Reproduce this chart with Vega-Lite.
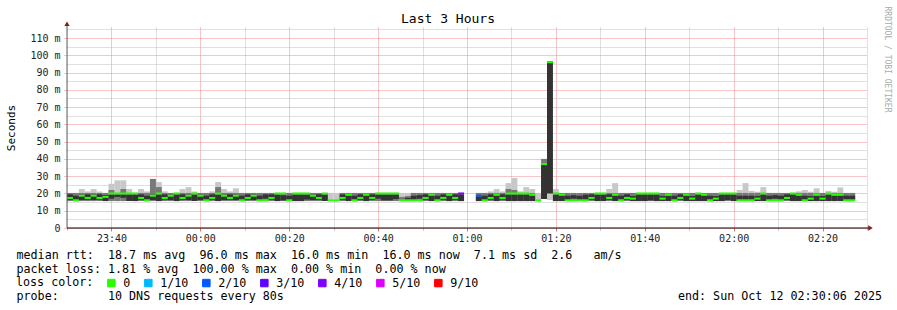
{
"$schema": "https://vega.github.io/schema/vega-lite/v6.json",
"width": 800, "height": 201,
"autosize": {"type": "none"},
"padding": {"left": 67, "top": 27, "right": 30, "bottom": 82},
"background": "#ffffff",
"config": {"view": {"stroke": null}, "font": "DejaVu Sans Mono"},
"title": {"text": "Last 3 Hours", "font": "DejaVu Sans Mono", "fontSize": 13, "fontWeight": "normal", "color": "#000000", "anchor": "middle", "frame": "group", "dx": -19, "baseline": "alphabetic", "offset": 0, "dy": 29.5},
"data": {"values": [
{"t":0,"t2":80,"lo":15.6,"hi":20.3,"b2":20.3,"d1":16.3,"d2":19.5,"med":17.4,"loss":"0"},
{"t":80,"t2":160,"lo":15.6,"hi":20.3,"b2":20.3,"d1":16.5,"d2":18.7,"med":16,"loss":"0"},
{"t":160,"t2":240,"lo":15.6,"hi":22.6,"b2":20.3,"d1":16.2,"d2":19.3,"med":18.7,"loss":"0"},
{"t":240,"t2":320,"lo":15.6,"hi":21.2,"b2":20.3,"d1":16.3,"d2":19.5,"med":17.4,"loss":"0"},
{"t":320,"t2":400,"lo":15.6,"hi":22.6,"b2":20.3,"d1":16.2,"d2":19.3,"med":18.7,"loss":"0"},
{"t":400,"t2":480,"lo":15.6,"hi":21.2,"b2":20.3,"d1":16.3,"d2":19.5,"med":17.4,"loss":"0"},
{"t":480,"t2":560,"lo":15.6,"hi":20.3,"b2":20.3,"d1":15.6,"d2":19,"med":18,"loss":"0"},
{"t":560,"t2":640,"lo":15.6,"hi":25.6,"b2":22,"d1":17,"d2":19.3,"med":20,"loss":"0"},
{"t":640,"t2":720,"lo":15.6,"hi":27.6,"b2":20.3,"d1":18,"d2":19.3,"med":20,"loss":"0"},
{"t":720,"t2":800,"lo":15.6,"hi":27.6,"b2":22.6,"d1":17.5,"d2":19.3,"med":20,"loss":"0"},
{"t":800,"t2":880,"lo":15.6,"hi":22.6,"b2":20.3,"d1":15.6,"d2":19.3,"med":20,"loss":"0"},
{"t":880,"t2":960,"lo":15.6,"hi":20.3,"b2":20.3,"d1":15.6,"d2":19.3,"med":20,"loss":"0"},
{"t":960,"t2":1040,"lo":15.6,"hi":22.6,"b2":20.3,"d1":16.3,"d2":19.5,"med":17.4,"loss":"0"},
{"t":1040,"t2":1120,"lo":15.6,"hi":21.2,"b2":20.3,"d1":16.5,"d2":18.7,"med":16,"loss":"0"},
{"t":1120,"t2":1200,"lo":15.6,"hi":28.4,"b2":28.4,"d1":16.2,"d2":19.3,"med":18.7,"loss":"0"},
{"t":1200,"t2":1280,"lo":15.6,"hi":26.6,"b2":23.7,"d1":15.6,"d2":19.3,"med":20,"loss":"0"},
{"t":1280,"t2":1360,"lo":15.6,"hi":21.2,"b2":20.3,"d1":16.3,"d2":19.5,"med":17.4,"loss":"0"},
{"t":1360,"t2":1440,"lo":15.6,"hi":20.3,"b2":20.3,"d1":16.2,"d2":19.3,"med":18.7,"loss":"0"},
{"t":1440,"t2":1520,"lo":15.6,"hi":20.3,"b2":20.3,"d1":15.6,"d2":19.3,"med":20,"loss":"0"},
{"t":1520,"t2":1600,"lo":15.6,"hi":22.6,"b2":20.3,"d1":16.3,"d2":19.5,"med":17.4,"loss":"0"},
{"t":1600,"t2":1680,"lo":15.6,"hi":23.7,"b2":20.3,"d1":16.2,"d2":19.3,"med":18.7,"loss":"0"},
{"t":1680,"t2":1760,"lo":15.6,"hi":21.2,"b2":20.3,"d1":15.6,"d2":19.3,"med":20,"loss":"0"},
{"t":1760,"t2":1840,"lo":15.6,"hi":20.3,"b2":20.3,"d1":16.2,"d2":19.3,"med":18.7,"loss":"0"},
{"t":1840,"t2":1920,"lo":15.6,"hi":20.3,"b2":20.3,"d1":16.5,"d2":18.7,"med":16,"loss":"0"},
{"t":1920,"t2":2000,"lo":15.6,"hi":21.2,"b2":20.3,"d1":16.3,"d2":19.5,"med":17.4,"loss":"0"},
{"t":2000,"t2":2080,"lo":15.6,"hi":26.6,"b2":23.7,"d1":15.6,"d2":19.3,"med":20,"loss":"0"},
{"t":2080,"t2":2160,"lo":15.6,"hi":22.6,"b2":20.3,"d1":16.2,"d2":19.3,"med":18.7,"loss":"0"},
{"t":2160,"t2":2240,"lo":15.6,"hi":21.2,"b2":20.3,"d1":16.3,"d2":19.5,"med":17.4,"loss":"0"},
{"t":2240,"t2":2320,"lo":15.6,"hi":23,"b2":20.3,"d1":16.2,"d2":19.3,"med":18.7,"loss":"0"},
{"t":2320,"t2":2400,"lo":15.6,"hi":20.3,"b2":20.3,"d1":16.5,"d2":18.7,"med":16,"loss":"0"},
{"t":2400,"t2":2480,"lo":15.6,"hi":20.3,"b2":20.3,"d1":16.3,"d2":19.5,"med":17.4,"loss":"0"},
{"t":2480,"t2":2560,"lo":15.6,"hi":20.3,"b2":20.3,"d1":16.2,"d2":19.3,"med":18.7,"loss":"0"},
{"t":2560,"t2":2640,"lo":15.6,"hi":20.3,"b2":20.3,"d1":16.5,"d2":18.7,"med":16,"loss":"0"},
{"t":2640,"t2":2720,"lo":15.6,"hi":20.3,"b2":20.3,"d1":17,"d2":19.5,"med":16,"loss":"0"},
{"t":2720,"t2":2800,"lo":15.6,"hi":20.3,"b2":20.3,"d1":16.3,"d2":19.5,"med":17.4,"loss":"0"},
{"t":2800,"t2":2880,"lo":15.6,"hi":20.3,"b2":20.3,"d1":15.6,"d2":19.3,"med":20,"loss":"0"},
{"t":2880,"t2":2960,"lo":15.6,"hi":20.3,"b2":20.3,"d1":16,"d2":19,"med":20,"loss":"0"},
{"t":2960,"t2":3040,"lo":15.6,"hi":20.3,"b2":20.3,"d1":16.5,"d2":18.7,"med":16,"loss":"0"},
{"t":3040,"t2":3120,"lo":15.6,"hi":20.3,"b2":20.3,"d1":15.6,"d2":19.3,"med":20,"loss":"0"},
{"t":3120,"t2":3200,"lo":15.6,"hi":20.3,"b2":20.3,"d1":15.6,"d2":19.3,"med":20,"loss":"0"},
{"t":3200,"t2":3280,"lo":15.6,"hi":20.3,"b2":20.3,"d1":16.5,"d2":19.3,"med":20,"loss":"0"},
{"t":3280,"t2":3360,"lo":15.6,"hi":20.3,"b2":20.3,"d1":16.2,"d2":19.3,"med":18.7,"loss":"0"},
{"t":3360,"t2":3440,"lo":15.6,"hi":20.3,"b2":20.3,"d1":16.3,"d2":19.5,"med":17.4,"loss":"0"},
{"t":3440,"t2":3520,"lo":15.6,"hi":20.3,"b2":20.3,"d1":15.6,"d2":19.3,"med":20,"loss":"0"},
{"t":3520,"t2":3600,"lo":15.6,"hi":20.3,"b2":15.6,"d1":15.6,"d2":15.6,"med":16,"loss":"0"},
{"t":3600,"t2":3680,"lo":15.6,"hi":20.3,"b2":15.6,"d1":15.6,"d2":15.6,"med":16,"loss":"0"},
{"t":3680,"t2":3760,"lo":15.6,"hi":20.3,"b2":20.3,"d1":16.3,"d2":19.5,"med":17.4,"loss":"0"},
{"t":3760,"t2":3840,"lo":15.6,"hi":20.3,"b2":20.3,"d1":15.6,"d2":18.7,"med":19.3,"loss":"0"},
{"t":3840,"t2":3920,"lo":15.6,"hi":20.3,"b2":20.3,"d1":16.5,"d2":18.7,"med":16,"loss":"0"},
{"t":3920,"t2":4000,"lo":15.6,"hi":20.3,"b2":20.3,"d1":16.3,"d2":19.5,"med":17.4,"loss":"0"},
{"t":4000,"t2":4080,"lo":15.6,"hi":20.3,"b2":20.3,"d1":15.6,"d2":18.7,"med":19.3,"loss":"0"},
{"t":4080,"t2":4160,"lo":15.6,"hi":20.3,"b2":20.3,"d1":16.3,"d2":19.5,"med":17.4,"loss":"0"},
{"t":4160,"t2":4240,"lo":15.6,"hi":20.3,"b2":20.3,"d1":17,"d2":19.3,"med":20,"loss":"0"},
{"t":4240,"t2":4320,"lo":15.6,"hi":20.3,"b2":20.3,"d1":16,"d2":19.3,"med":20,"loss":"0"},
{"t":4320,"t2":4400,"lo":15.6,"hi":20.3,"b2":20.3,"d1":16,"d2":19.3,"med":20,"loss":"0"},
{"t":4400,"t2":4480,"lo":15.6,"hi":20.3,"b2":20.3,"d1":16.8,"d2":19.3,"med":20,"loss":"0"},
{"t":4480,"t2":4560,"lo":15.6,"hi":20.3,"b2":18,"d1":16.5,"d2":16.5,"med":16,"loss":"0"},
{"t":4560,"t2":4640,"lo":15.6,"hi":20.3,"b2":18.5,"d1":16.5,"d2":17.5,"med":16,"loss":"0"},
{"t":4640,"t2":4720,"lo":15.6,"hi":20.3,"b2":20.3,"d1":16.5,"d2":18.7,"med":16,"loss":"0"},
{"t":4720,"t2":4800,"lo":15.6,"hi":20.3,"b2":20.3,"d1":17,"d2":19,"med":16,"loss":"0"},
{"t":4800,"t2":4880,"lo":15.6,"hi":20.3,"b2":20.3,"d1":16.3,"d2":19.5,"med":17.4,"loss":"0"},
{"t":4880,"t2":4960,"lo":15.6,"hi":20.3,"b2":20.3,"d1":15.6,"d2":18.7,"med":19.3,"loss":"0"},
{"t":4960,"t2":5040,"lo":15.6,"hi":20.3,"b2":20.3,"d1":16.5,"d2":18.7,"med":16,"loss":"0"},
{"t":5040,"t2":5120,"lo":15.6,"hi":20.3,"b2":20.3,"d1":16.3,"d2":19.5,"med":17.4,"loss":"0"},
{"t":5120,"t2":5200,"lo":15.6,"hi":20.3,"b2":20.3,"d1":15.6,"d2":18.7,"med":19.3,"loss":"0"},
{"t":5200,"t2":5280,"lo":15.6,"hi":20.3,"b2":20.3,"d1":16.3,"d2":19.5,"med":17.4,"loss":"0"},
{"t":5280,"t2":5360,"lo":15.6,"hi":20.3,"b2":20.3,"d1":15.6,"d2":19.3,"med":20,"loss":"4/10"},
{"t":5520,"t2":5600,"lo":15.6,"hi":20.3,"b2":20.3,"d1":15.6,"d2":18.2,"med":18.7,"loss":"2/10"},
{"t":5600,"t2":5680,"lo":15.6,"hi":20.3,"b2":20.3,"d1":16.5,"d2":18.7,"med":16,"loss":"0"},
{"t":5680,"t2":5760,"lo":15.6,"hi":21.2,"b2":20.3,"d1":16.3,"d2":19.5,"med":17.4,"loss":"0"},
{"t":5760,"t2":5840,"lo":15.6,"hi":22.6,"b2":20.3,"d1":15.6,"d2":18.7,"med":19.3,"loss":"0"},
{"t":5840,"t2":5920,"lo":15.6,"hi":21.2,"b2":20.3,"d1":16.3,"d2":19.5,"med":17.4,"loss":"0"},
{"t":5920,"t2":6000,"lo":15.6,"hi":26,"b2":22.6,"d1":15.6,"d2":19.3,"med":20,"loss":"0"},
{"t":6000,"t2":6080,"lo":15.6,"hi":29,"b2":22,"d1":15.6,"d2":19.3,"med":20,"loss":"0"},
{"t":6080,"t2":6160,"lo":15.6,"hi":21.2,"b2":20.3,"d1":15.6,"d2":19.3,"med":20,"loss":"0"},
{"t":6160,"t2":6240,"lo":15.6,"hi":23.7,"b2":20.3,"d1":15.6,"d2":19.3,"med":20,"loss":"0"},
{"t":6240,"t2":6320,"lo":15.6,"hi":22.6,"b2":20.3,"d1":15.6,"d2":18.7,"med":19.3,"loss":"0"},
{"t":6320,"t2":6400,"lo":15.3,"hi":20.3,"b2":15.3,"d1":15.3,"d2":15.3,"med":16,"loss":"0"},
{"t":6400,"t2":6480,"lo":16.8,"hi":40,"b2":40,"d1":16.8,"d2":37,"med":37,"loss":"0"},
{"t":6480,"t2":6560,"lo":16.2,"hi":96.6,"b2":16.2,"d1":20,"d2":96.6,"med":96,"loss":"0"},
{"t":6560,"t2":6640,"lo":15.6,"hi":22.6,"b2":20.3,"d1":15.6,"d2":19.3,"med":20,"loss":"0"},
{"t":6640,"t2":6720,"lo":15.6,"hi":20.3,"b2":20.3,"d1":15.6,"d2":18.7,"med":19.3,"loss":"0"},
{"t":6720,"t2":6800,"lo":15.6,"hi":20.3,"b2":20.3,"d1":16.5,"d2":18.7,"med":16,"loss":"0"},
{"t":6800,"t2":6880,"lo":15.6,"hi":20.3,"b2":20.3,"d1":17,"d2":19,"med":16,"loss":"0"},
{"t":6880,"t2":6960,"lo":15.6,"hi":20.3,"b2":20.3,"d1":16.5,"d2":18.7,"med":16,"loss":"0"},
{"t":6960,"t2":7040,"lo":15.6,"hi":20.3,"b2":20.3,"d1":16.5,"d2":19.3,"med":16,"loss":"0"},
{"t":7040,"t2":7120,"lo":15.6,"hi":20.3,"b2":20.3,"d1":16.3,"d2":19.5,"med":17.4,"loss":"0"},
{"t":7120,"t2":7200,"lo":15.6,"hi":20.3,"b2":20.3,"d1":15.6,"d2":19.3,"med":20,"loss":"0"},
{"t":7200,"t2":7280,"lo":15.6,"hi":20.3,"b2":20.3,"d1":15.6,"d2":19.3,"med":20,"loss":"0"},
{"t":7280,"t2":7360,"lo":15.6,"hi":22.6,"b2":20.3,"d1":16.3,"d2":19.5,"med":17.4,"loss":"0"},
{"t":7360,"t2":7440,"lo":15.6,"hi":26,"b2":20.3,"d1":15.6,"d2":18.7,"med":19.3,"loss":"0"},
{"t":7440,"t2":7520,"lo":15.6,"hi":20.3,"b2":20.3,"d1":16.5,"d2":18.7,"med":16,"loss":"0"},
{"t":7520,"t2":7600,"lo":15.6,"hi":20.3,"b2":20.3,"d1":16.3,"d2":19.5,"med":17.4,"loss":"0"},
{"t":7600,"t2":7680,"lo":15.6,"hi":20.3,"b2":20.3,"d1":15.6,"d2":18.5,"med":17,"loss":"0"},
{"t":7680,"t2":7760,"lo":15.6,"hi":20.3,"b2":20.3,"d1":15.6,"d2":19.3,"med":20,"loss":"0"},
{"t":7760,"t2":7840,"lo":15.6,"hi":20.3,"b2":20.3,"d1":15.6,"d2":19.3,"med":20,"loss":"0"},
{"t":7840,"t2":7920,"lo":15.6,"hi":20.3,"b2":20.3,"d1":16,"d2":19.3,"med":20,"loss":"0"},
{"t":7920,"t2":8000,"lo":15.6,"hi":20.3,"b2":20.3,"d1":15.6,"d2":19.3,"med":20,"loss":"0"},
{"t":8000,"t2":8080,"lo":15.6,"hi":20.3,"b2":20.3,"d1":15.6,"d2":18.5,"med":17,"loss":"0"},
{"t":8080,"t2":8160,"lo":15.6,"hi":20.3,"b2":20.3,"d1":15.6,"d2":18.7,"med":19.3,"loss":"0"},
{"t":8160,"t2":8240,"lo":15.6,"hi":20.3,"b2":20.3,"d1":16.5,"d2":18.7,"med":16,"loss":"0"},
{"t":8240,"t2":8320,"lo":15.6,"hi":20.3,"b2":20.3,"d1":16.3,"d2":19.5,"med":17.4,"loss":"0"},
{"t":8320,"t2":8400,"lo":15.6,"hi":20.3,"b2":20.3,"d1":15.6,"d2":18.7,"med":19.3,"loss":"0"},
{"t":8400,"t2":8480,"lo":15.6,"hi":20.3,"b2":20.3,"d1":15.6,"d2":18.5,"med":17,"loss":"0"},
{"t":8480,"t2":8560,"lo":15.6,"hi":20.3,"b2":20.3,"d1":15.6,"d2":19.3,"med":20,"loss":"0"},
{"t":8560,"t2":8640,"lo":15.6,"hi":20.3,"b2":20.3,"d1":15.6,"d2":18.7,"med":19.3,"loss":"0"},
{"t":8640,"t2":8720,"lo":15.6,"hi":20.3,"b2":20.3,"d1":16.5,"d2":18.7,"med":16,"loss":"0"},
{"t":8720,"t2":8800,"lo":15.6,"hi":20.3,"b2":20.3,"d1":15.6,"d2":18.5,"med":17,"loss":"0"},
{"t":8800,"t2":8880,"lo":15.6,"hi":20.3,"b2":20.3,"d1":15.6,"d2":19.3,"med":20,"loss":"0"},
{"t":8880,"t2":8960,"lo":15.6,"hi":20.3,"b2":20.3,"d1":16.2,"d2":19.3,"med":20,"loss":"0"},
{"t":8960,"t2":9040,"lo":15.6,"hi":20.3,"b2":20.3,"d1":15.6,"d2":19.3,"med":20,"loss":"0"},
{"t":9040,"t2":9120,"lo":15.6,"hi":22,"b2":20.3,"d1":16.5,"d2":18.7,"med":16,"loss":"0"},
{"t":9120,"t2":9200,"lo":15.6,"hi":26,"b2":20.3,"d1":16.5,"d2":18.7,"med":16,"loss":"0"},
{"t":9200,"t2":9280,"lo":15.6,"hi":21.5,"b2":20.3,"d1":16.5,"d2":18.7,"med":16,"loss":"0"},
{"t":9280,"t2":9360,"lo":15.6,"hi":21,"b2":20.3,"d1":15.6,"d2":18.5,"med":17,"loss":"0"},
{"t":9360,"t2":9440,"lo":15.6,"hi":23.7,"b2":20.3,"d1":15.6,"d2":19.3,"med":20,"loss":"0"},
{"t":9440,"t2":9520,"lo":15.6,"hi":20.3,"b2":20.3,"d1":16.5,"d2":18.7,"med":16,"loss":"0"},
{"t":9520,"t2":9600,"lo":15.6,"hi":20.3,"b2":20.3,"d1":17,"d2":19,"med":16,"loss":"0"},
{"t":9600,"t2":9680,"lo":15.6,"hi":20.3,"b2":20.3,"d1":16.5,"d2":18.7,"med":16,"loss":"0"},
{"t":9680,"t2":9760,"lo":15.6,"hi":20.3,"b2":20.3,"d1":16.3,"d2":19.5,"med":17.4,"loss":"0"},
{"t":9760,"t2":9840,"lo":15.6,"hi":20.3,"b2":20.3,"d1":15.6,"d2":19.3,"med":20,"loss":"0"},
{"t":9840,"t2":9920,"lo":15.6,"hi":21.2,"b2":20.3,"d1":15.6,"d2":18.7,"med":19.3,"loss":"0"},
{"t":9920,"t2":10000,"lo":15.6,"hi":22,"b2":20.3,"d1":16.5,"d2":18.7,"med":16,"loss":"0"},
{"t":10000,"t2":10080,"lo":15.6,"hi":21,"b2":20.3,"d1":15.6,"d2":18.5,"med":17,"loss":"0"},
{"t":10080,"t2":10160,"lo":15.6,"hi":23,"b2":20.3,"d1":15.6,"d2":18.7,"med":19.3,"loss":"0"},
{"t":10160,"t2":10240,"lo":15.6,"hi":20.3,"b2":20.3,"d1":15.6,"d2":18.5,"med":17,"loss":"0"},
{"t":10240,"t2":10320,"lo":15.6,"hi":21.5,"b2":20.3,"d1":15.6,"d2":19.3,"med":20,"loss":"0"},
{"t":10320,"t2":10400,"lo":15.6,"hi":21,"b2":20.3,"d1":15.6,"d2":18.7,"med":19.3,"loss":"0"},
{"t":10400,"t2":10480,"lo":15.6,"hi":23.5,"b2":20.3,"d1":15.6,"d2":18.7,"med":19.3,"loss":"0"},
{"t":10480,"t2":10560,"lo":15.6,"hi":20.3,"b2":20.3,"d1":16.5,"d2":18.7,"med":16,"loss":"0"},
{"t":10560,"t2":10640,"lo":15.6,"hi":20.3,"b2":20.3,"d1":16.5,"d2":18.7,"med":16,"loss":"0"}
]},
"layer": [
{"mark": {"type": "rect", "color": "#c8c8c8"},
 "encoding": {
  "x": {"field": "t", "type": "quantitative", "scale": {"domain": [0, 10800], "nice": false, "zero": false},
   "axis": {"values": [0,300,600,900,1200,1500,1800,2100,2400,2700,3000,3300,3600,3900,4200,4500,4800,5100,5400,5700,6000,6300,6600,6900,7200,7500,7800,8100,8400,8700,9000,9300,9600,9900,10200,10500,10800],
    "domain": false,
    "labelExpr": "(datum.value - 600) % 1200 === 0 ? utcFormat((datum.value + 84600) * 1000, '%H:%M') : ''",
    "labelFont": "DejaVu Sans Mono", "labelFontSize": 10, "labelColor": "#222222", "labelPadding": 2, "labelAngle": 0, "labelFlush": false, "labelOverlap": false,
    "tickSize": {"condition": {"test": "(datum.value - 600) % 1200 === 0", "value": 3}, "value": 2},
    "tickColor": {"condition": {"test": "(datum.value - 600) % 1200 === 0", "value": "#e07070"}, "value": "#b8b8b8"},
    "grid": true, "gridDash": [1, 1], "gridWidth": 1,
    "gridColor": {"condition": {"test": "(datum.value - 600) % 1200 === 0", "value": "#f08c8c"}, "value": "#c0c0c0"},
    "title": ["median rtt:\u00a0\u00a018.7 ms avg\u00a0\u00a096.0 ms max\u00a0\u00a016.0 ms min\u00a0\u00a016.0 ms now\u00a0\u00a07.1 ms sd\u00a0\u00a02.6\u00a0\u00a0\u00a0am/s", "packet loss: 1.81 % avg\u00a0\u00a0100.00 % max\u00a0\u00a00.00 % min\u00a0\u00a00.00 % now"],
    "titleFont": "DejaVu Sans Mono", "titleFontSize": 11.7, "titleFontWeight": "normal", "titleColor": "#000000",
    "titleAlign": "left", "titleAnchor": "start", "titleBaseline": "alphabetic", "titleX": -51, "titleY": 30.5, "titleLineHeight": 13.8}},
  "x2": {"field": "t2"},
  "y": {"field": "lo", "type": "quantitative", "scale": {"domain": [0, 116.4], "nice": false, "zero": true},
   "axis": {"orient": "left", "values": [0,5,10,15,20,25,30,35,40,45,50,55,60,65,70,75,80,85,90,95,100,105,110,115],
    "domain": false,
    "labelExpr": "datum.value % 10 === 0 ? (datum.value === 0 ? '0' : datum.value + ' m') : ''",
    "labelFont": "DejaVu Sans Mono", "labelFontSize": 10, "labelColor": "#222222", "labelPadding": 3, "labelOverlap": false, "labelFlush": false,
    "tickSize": {"condition": {"test": "datum.value % 10 === 0", "value": 4}, "value": 2},
    "tickColor": {"condition": {"test": "datum.value % 10 === 0", "value": "#f08c8c"}, "value": "#c0c0c0"},
    "tickDash": [1, 1],
    "grid": true, "gridDash": [1, 1], "gridWidth": 1,
    "gridColor": {"condition": {"test": "datum.value % 10 === 0", "value": "#f08c8c"}, "value": "#c0c0c0"},
    "title": "Seconds", "titleFont": "DejaVu Sans Mono", "titleFontSize": 11, "titleFontWeight": "normal", "titleColor": "#000000",
    "titleX": -56, "titleY": 100.5, "titleAngle": -90, "titleAlign": "center", "titleBaseline": "middle"}},
  "y2": {"field": "hi"}
 }},
{"mark": {"type": "rect", "color": "#787878"},
 "encoding": {"x": {"field": "t", "type": "quantitative"}, "x2": {"field": "t2"},
  "y": {"field": "lo", "type": "quantitative", "axis": null}, "y2": {"field": "b2"}}},
{"mark": {"type": "rect", "color": "#333333"},
 "encoding": {"x": {"field": "t", "type": "quantitative"}, "x2": {"field": "t2"},
  "y": {"field": "d1", "type": "quantitative", "axis": null}, "y2": {"field": "d2"}}},
{"mark": {"type": "rule", "strokeWidth": 2},
 "encoding": {"x": {"field": "t", "type": "quantitative"}, "x2": {"field": "t2"},
  "y": {"field": "med", "type": "quantitative", "axis": null},
  "color": {"field": "loss", "type": "nominal",
   "scale": {"domain": ["0", "1/10", "2/10", "3/10", "4/10", "5/10", "9/10"], "range": ["#26ff00", "#00b8ff", "#0059ff", "#5e00ff", "#7e00ff", "#dd00ff", "#ff0000"]},
   "legend": {"orient": "none", "legendX": -51, "legendY": 250, "direction": "horizontal",
    "title": "loss color:", "titleOrient": "left", "titlePadding": 11.5, "titleFont": "DejaVu Sans Mono", "titleFontSize": 11.7, "titleFontWeight": "normal", "titleColor": "#000000", "titleBaseline": "top", "titleAnchor": "start",
    "symbolType": "square", "symbolSize": 56, "symbolStrokeWidth": 1, "symbolStrokeColor": "#000000", "symbolOpacity": 1,
    "labelFont": "DejaVu Sans Mono", "labelFontSize": 11.7, "labelColor": "#000000", "labelOffset": 6, "columnPadding": 12, "padding": 0,
    "encode": {"symbols": {"update": {"fill": {"scale": "color", "field": "value"}, "stroke": {"value": "#000000"}, "strokeWidth": {"value": 1}, "shape": {"value": "square"}, "size": {"value": 56}, "opacity": {"value": 1}}}}}}}},
{"data": {"values": [{}]},
 "mark": {"type": "rule", "color": "#666666", "strokeWidth": 1},
 "encoding": {"x": {"datum": 0, "type": "quantitative"}, "y": {"datum": 0, "type": "quantitative", "axis": null}, "y2": {"datum": 117.5}}},
{"data": {"values": [{}]},
 "mark": {"type": "rule", "color": "#000000", "strokeWidth": 1},
 "encoding": {"x": {"datum": 0, "type": "quantitative"}, "x2": {"datum": 10840}, "y": {"datum": 0, "type": "quantitative", "axis": null}}},
{"data": {"values": [{}]},
 "mark": {"type": "point", "shape": "triangle-up", "filled": true, "color": "#8b1a1a", "size": 28, "opacity": 1},
 "encoding": {"x": {"datum": 0, "type": "quantitative"},
  "y": {"datum": 118.3, "type": "quantitative",
   "axis": {"orient": "right", "domain": false, "ticks": false, "labels": false, "grid": false,
    "title": "RRDTOOL / TOBI OETIKER", "titleFont": "DejaVu Sans Mono", "titleFontSize": 8, "titleFontWeight": "normal", "titleColor": "#aaaaaa",
    "titleAngle": 90, "titleX": 19, "titleY": 32, "titleAlign": "center", "titleBaseline": "middle"}}}},
{"data": {"values": [{}]},
 "mark": {"type": "point", "shape": "triangle-right", "filled": true, "color": "#8b1a1a", "size": 28, "opacity": 1},
 "encoding": {"x": {"datum": 10847, "type": "quantitative"},
  "y": {"datum": 0, "type": "quantitative",
   "axis": {"orient": "left", "domain": false, "ticks": false, "labels": false, "grid": false,
    "title": "probe:\u00a0\u00a0\u00a0\u00a0\u00a0\u00a0\u00a010 DNS requests every 80s\u00a0\u00a0\u00a0\u00a0\u00a0\u00a0\u00a0\u00a0\u00a0\u00a0\u00a0\u00a0\u00a0\u00a0\u00a0\u00a0\u00a0\u00a0\u00a0\u00a0\u00a0\u00a0\u00a0\u00a0\u00a0\u00a0\u00a0\u00a0\u00a0\u00a0\u00a0\u00a0\u00a0\u00a0\u00a0\u00a0\u00a0\u00a0\u00a0\u00a0\u00a0\u00a0\u00a0\u00a0\u00a0\u00a0\u00a0\u00a0\u00a0\u00a0\u00a0\u00a0\u00a0\u00a0\u00a0\u00a0end: Sun Oct 12 02:30:06 2025",
    "titleFont": "DejaVu Sans Mono", "titleFontSize": 11.7, "titleFontWeight": "normal", "titleColor": "#000000",
    "titleAngle": 0, "titleX": -51, "titleY": 272.9, "titleAlign": "left", "titleBaseline": "alphabetic"}}}}
],
"resolve": {"axis": {"y": "independent"}}
}
